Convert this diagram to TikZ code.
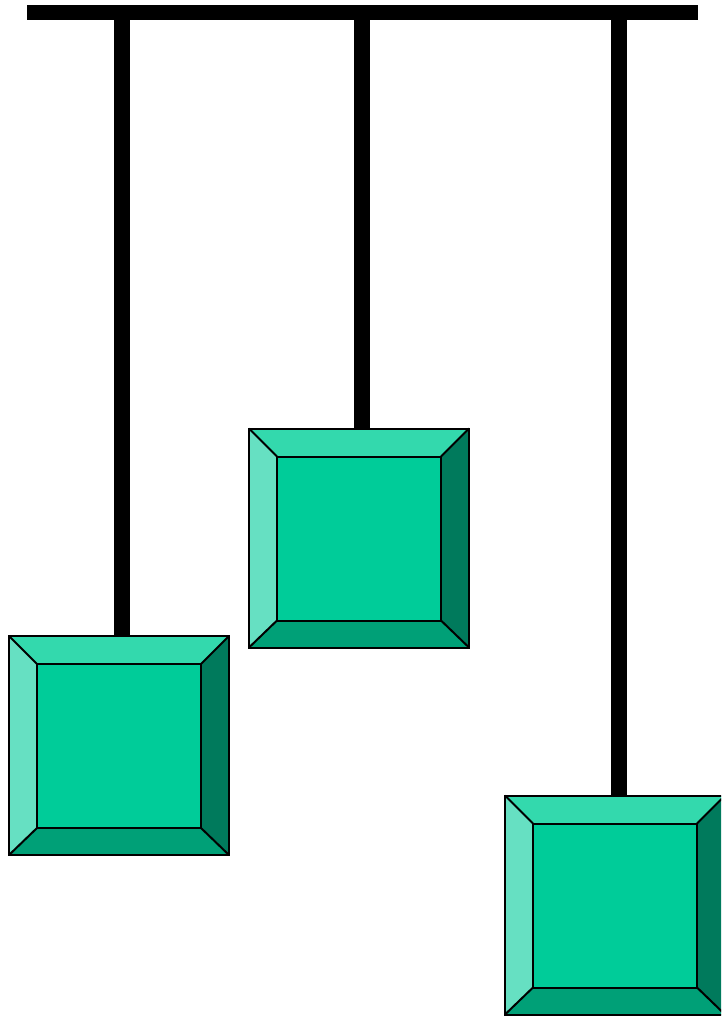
\documentclass[tikz,border=0pt]{standalone}
\usetikzlibrary{calc}
\definecolor{bevtop}{HTML}{33D9AD}
\definecolor{bevleft}{HTML}{66E0C2}
\definecolor{bevface}{HTML}{00CC99}
\definecolor{bevbot}{HTML}{00A077}
\definecolor{bevright}{HTML}{007A5C}
\tikzset{
  hanger/.style={line width=16pt, black},
  rail/.style={line width=15pt, black},
  boxnode/.style={rectangle, minimum width=220pt, minimum height=219pt, inner sep=0pt, outer sep=0pt},
  edge line/.style={draw=black, line width=2pt, line join=miter}
}
\begin{document}
\begin{tikzpicture}[x=1pt,y=-1pt]
\useasboundingbox (0,0) rectangle (721,1016);
\clip (0,0) rectangle (721,1016);
% boxes (positions)
\node[boxnode] (b1) at (119,745.5) {};
\node[boxnode] (b2) at (359,538) {};
\node[boxnode] (b3) at (615,905) {};
% rail and hanger points
\coordinate (r1) at (27,12.5);
\coordinate (r2) at (698,12.5);
\coordinate (s1) at (122,12.5);
\coordinate (s2) at (362,12.5);
\coordinate (s3) at (619,12.5);
\draw[hanger] (s1) -- (s1 |- b1.north);
\draw[hanger] (s2) -- (s2 |- b2.north);
\draw[hanger] (s3) -- (s3 |- b3.north);
\draw[rail] (r1) -- (r2);
% bevelled boxes
\foreach \b in {b1,b2,b3}{
  \coordinate (A) at (\b.north west);
  \coordinate (B) at (\b.north east);
  \coordinate (C) at (\b.south east);
  \coordinate (D) at (\b.south west);
  \coordinate (a) at ($(A)+(28,28)$);
  \coordinate (b) at ($(B)+(-28,28)$);
  \coordinate (c) at ($(C)+(-28,-27)$);
  \coordinate (d) at ($(D)+(28,-27)$);
  \fill[bevface] (a) -- (b) -- (c) -- (d) -- cycle;
  \fill[bevtop] (A) -- (B) -- (b) -- (a) -- cycle;
  \fill[bevright] (B) -- (C) -- (c) -- (b) -- cycle;
  \fill[bevbot] (C) -- (D) -- (d) -- (c) -- cycle;
  \fill[bevleft] (D) -- (A) -- (a) -- (d) -- cycle;
  \draw[edge line] (a) -- (b) -- (c) -- (d) -- cycle;
  \draw[edge line] (A) -- (a) (B) -- (b) (C) -- (c) (D) -- (d);
  \draw[edge line] (A) -- (B) -- (C) -- (D) -- cycle;
}
\end{tikzpicture}
\end{document}
